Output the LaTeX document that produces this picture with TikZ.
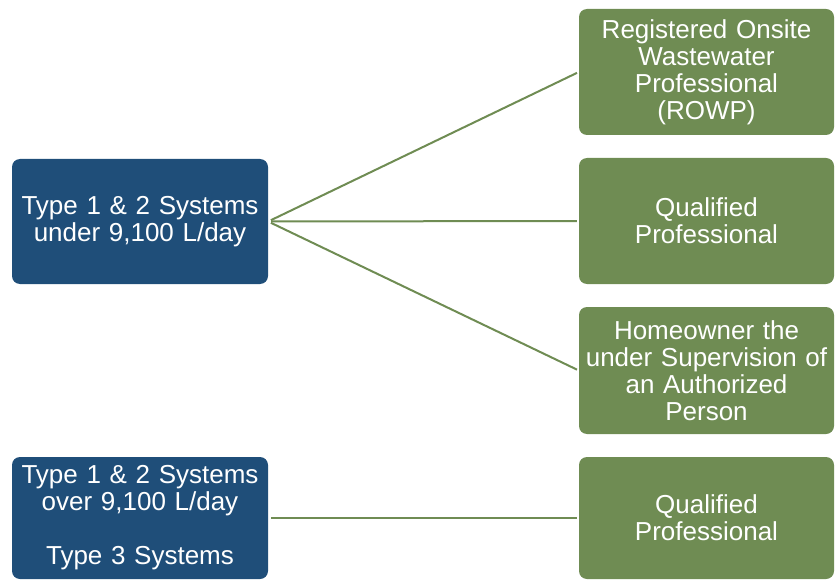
\documentclass[tikz,border=0pt]{standalone}
\usepackage{fontspec}
\setmainfont{Liberation Sans}
\usepackage{tikz}

\definecolor{sysblue}{RGB}{31,78,121}
\definecolor{whogreen}{RGB}{111,140,83}

\tikzset{
    systembox/.style={rectangle, rounded corners=8pt, fill=sysblue, text=white, minimum width=256pt, text width=256pt, inner sep=0pt, align=center, font=\fontsize{26}{27}\selectfont},
    whobox/.style={rectangle, rounded corners=8pt, fill=whogreen, text=white, minimum width=255pt, text width=255pt, inner sep=0pt, align=center, font=\fontsize{26}{27}\selectfont},
    link/.style={whogreen, line width=2pt, shorten <=3pt, shorten >=2pt}
}

\begin{document}
\begin{tikzpicture}[x=1pt, y=-1pt]
    \useasboundingbox (0,0) rectangle (835,580);

    % systems
    \node[systembox, minimum height=125pt] (small) at (140,221.5) {Type 1 \& 2 Systems\\under 9,100 L/day};
    \node[systembox, minimum height=122pt] (large) at (140,518) {Type 1 \& 2 Systems\\over 9,100 L/day\\[27pt]Type 3 Systems};

    % who may do the work
    \node[whobox, minimum height=126pt] (rowp) at (706.5,72) {Registered Onsite\\Wastewater\\Professional\\(ROWP)};
    \node[whobox, minimum height=126pt] (qp) at (706.5,221) {Qualified\\Professional};
    \node[whobox, minimum height=127pt] (owner) at (706.5,370.5) {Homeowner the\\under Supervision of\\an Authorized\\Person};
    \node[whobox, minimum height=122pt] (qp2) at (706.5,518) {Qualified\\Professional};

    % links
    \draw[link] (small.east) -- (rowp.west);
    \draw[link] (small.east) -- (qp.west);
    \draw[link] (small.east) -- (owner.west);
    \draw[link] (large.east) -- (qp2.west);
\end{tikzpicture}
\end{document}
